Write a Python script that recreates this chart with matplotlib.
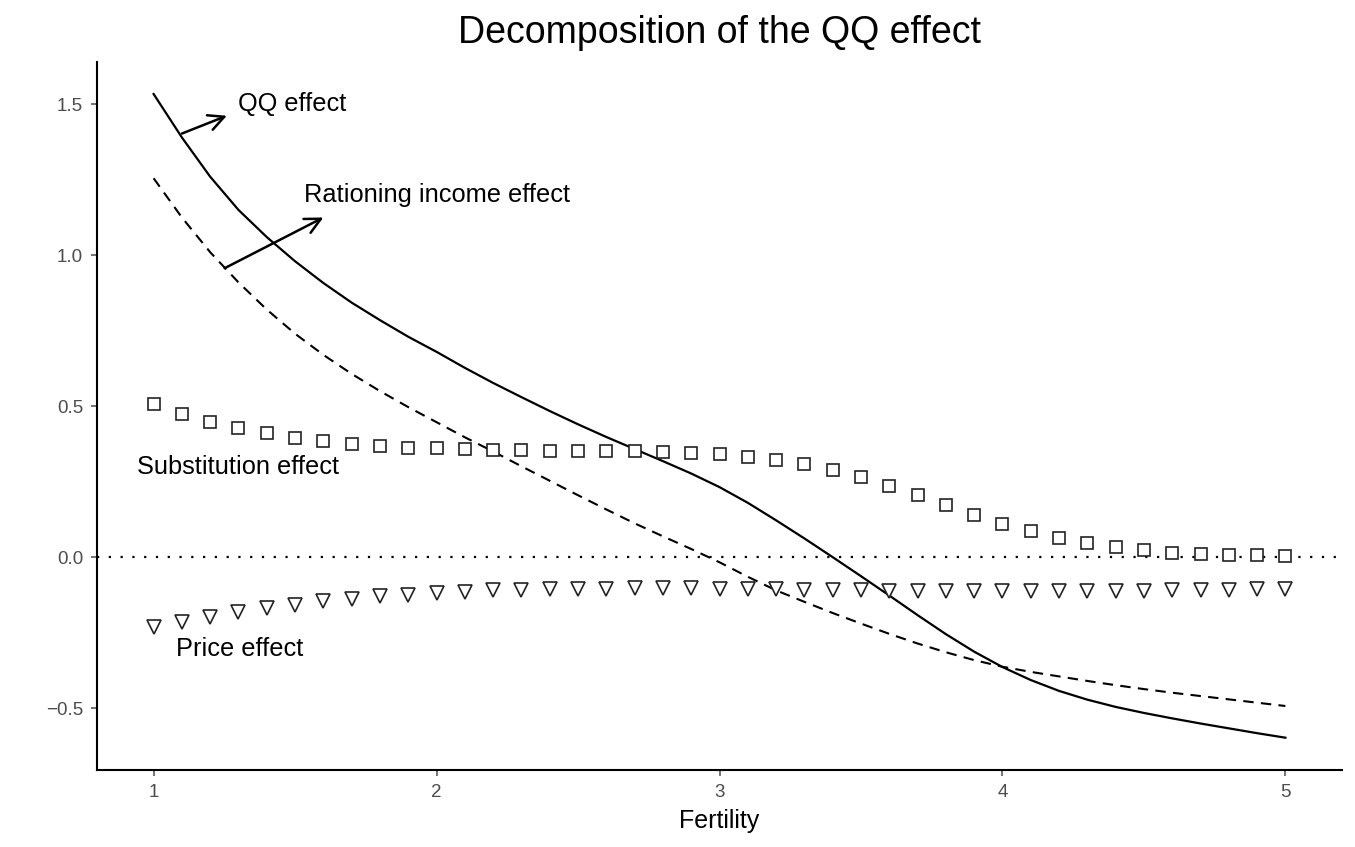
import matplotlib
matplotlib.use("Agg")
import matplotlib.pyplot as plt
import numpy as np

plt.rcParams['font.family'] = ['Liberation Sans', 'DejaVu Sans']

# marker series, fertility 1.0 .. 5.0 step 0.1
fert = np.round(np.arange(1.0, 5.01, 0.1), 1)
subst = [0.508, 0.475, 0.448, 0.427, 0.410, 0.396, 0.384, 0.375, 0.369, 0.363,
         0.361, 0.357, 0.355, 0.354, 0.353, 0.352, 0.351, 0.350, 0.348, 0.346,
         0.341, 0.333, 0.322, 0.307, 0.288, 0.264, 0.237, 0.206, 0.173, 0.141,
         0.111, 0.086, 0.064, 0.046, 0.033, 0.023, 0.015, 0.011, 0.008, 0.006,
         0.004]
price = [-0.231, -0.215, -0.198, -0.183, -0.170, -0.158, -0.146, -0.138, -0.129, -0.124,
         -0.118, -0.114, -0.110, -0.108, -0.106, -0.105, -0.104, -0.103, -0.103, -0.103,
         -0.105, -0.106, -0.107, -0.108, -0.109, -0.110, -0.111, -0.112, -0.112, -0.113,
         -0.113, -0.113, -0.113, -0.112, -0.112, -0.111, -0.110, -0.109, -0.108, -0.106,
         -0.105]

# line series
qq = [1.534, 1.39, 1.26, 1.15, 1.06, 0.98, 0.908, 0.843, 0.785, 0.73,
      0.68, 0.627, 0.577, 0.53, 0.484, 0.44, 0.398, 0.358, 0.318, 0.277,
      0.232, 0.18, 0.122, 0.062, 0.0, -0.063, -0.127, -0.192, -0.255, -0.313,
      -0.364, -0.407, -0.443, -0.472, -0.496, -0.516, -0.534, -0.551, -0.567, -0.583,
      -0.598]
rationing = [1.255, 1.125, 1.01, 0.91, 0.82, 0.74, 0.67, 0.607, 0.55, 0.497,
             0.447, 0.397, 0.35, 0.301, 0.253, 0.205, 0.158, 0.112, 0.069, 0.027,
             -0.017, -0.065, -0.11, -0.148, -0.185, -0.22, -0.254, -0.286, -0.315, -0.341,
             -0.363, -0.38, -0.395, -0.41, -0.424, -0.437, -0.449, -0.46, -0.471, -0.482,
             -0.493]

xticks = [1, 2, 3, 4, 5]
yticks = [-0.5, 0.0, 0.5, 1.0, 1.5]
ytick_labels = ['\u22120.5', '0.0', '0.5', '1.0', '1.5']

fig = plt.figure(figsize=(13.55, 8.47), dpi=100)
ax = fig.add_axes([0.0716, 0.0909, 0.9188, 0.8359])

ax.axhline(0, color='black', lw=1.6, linestyle=(0, (1, 4.3)))
ax.plot(fert, qq, color='black', lw=1.6)
ax.plot(fert, rationing, color='black', lw=1.5, linestyle=(0, (5, 3.5)))
ax.plot(fert, subst, linestyle='none', marker='s', ms=8, mfc='white',
        mec='#222222', mew=1.2)
ax.plot(fert, price, linestyle='none', marker='v', ms=9.5, mfc='white',
        mec='#222222', mew=1.2)

arrow = dict(arrowstyle='->', lw=1.8, color='black', mutation_scale=28,
             shrinkA=0, shrinkB=0)
ax.annotate('', xy=(1.259, 1.462), xytext=(1.10, 1.403), arrowprops=arrow)
ax.annotate('', xy=(1.60, 1.125), xytext=(1.251, 0.957), arrowprops=arrow)

lab = dict(fontsize=18.3, va='center', ha='left', color='black')
ax.text(1.30, 1.50, 'QQ effect', **lab)
ax.text(1.53, 1.198, 'Rationing income effect', **lab)
ax.text(0.94, 0.30, 'Substitution effect', **lab)
ax.text(1.078, -0.304, 'Price effect', **lab)

ax.set_xlim(0.8, 5.2)
ax.set_ylim(-0.705, 1.64)
ax.set_xticks(xticks)
ax.set_yticks(yticks)
ax.set_yticklabels(ytick_labels)
ax.tick_params(labelsize=13.5, colors='#4d4d4d', length=4, width=1.1, pad=6)
for s in ['top', 'right']:
    ax.spines[s].set_visible(False)
for s in ['left', 'bottom']:
    ax.spines[s].set_linewidth(1.5)
    ax.spines[s].set_color('black')

ax.set_xlabel('Fertility', fontsize=18, labelpad=6)
ax.set_title('Decomposition of the QQ effect', fontsize=27, pad=14)

fig.savefig('out.png', dpi=100)
